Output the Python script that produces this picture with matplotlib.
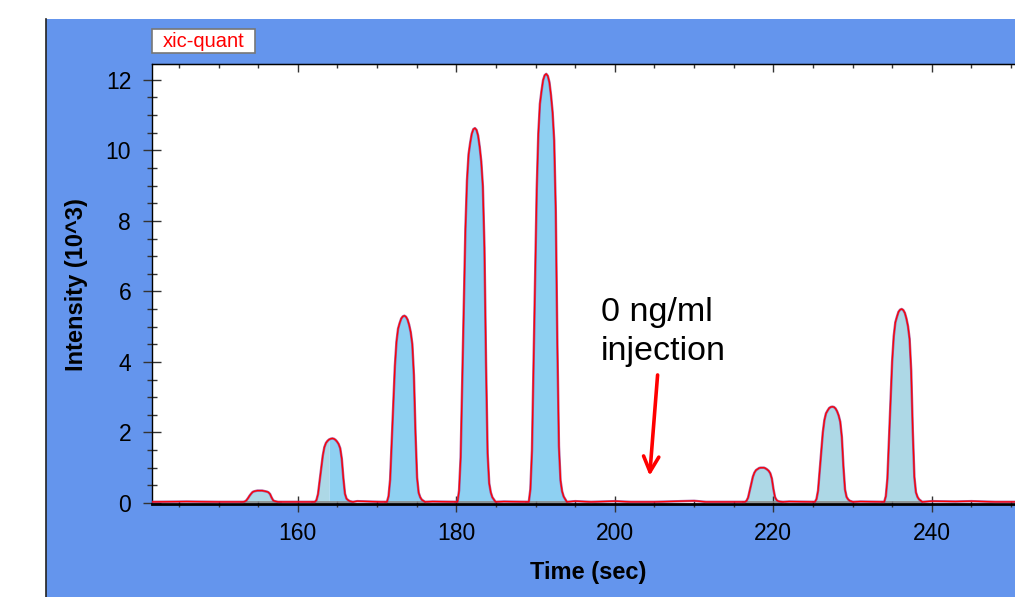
import numpy as np
import matplotlib
matplotlib.use("Agg")
import matplotlib.pyplot as plt
from matplotlib.patches import Rectangle
from matplotlib.lines import Line2D
from matplotlib.ticker import MultipleLocator

plt.rcParams['font.family'] = ['Liberation Sans', 'DejaVu Sans']

# ---- data ----
peak_offsets = [-2.2, -2.0, -1.8, -1.6, -1.4, -1.2, -1.0, -0.8, -0.6, -0.4, -0.2, 0.0,
                0.2, 0.4, 0.6, 0.8, 1.0, 1.2, 1.4, 1.6, 1.8, 2.0, 2.2, 2.6]
peak_centers = [155.3, 164.35, 173.45, 182.35, 191.35, 218.62, 227.45, 236.2]

peak1 = [0.03, 0.04, 0.07, 0.13, 0.20, 0.26, 0.31, 0.33, 0.34, 0.35, 0.35, 0.35,
         0.35, 0.34, 0.33, 0.32, 0.30, 0.25, 0.15, 0.07, 0.05, 0.04, 0.03, 0.03]
peak2 = [0.03, 0.08, 0.25, 0.61, 0.98, 1.34, 1.58, 1.70, 1.76, 1.80, 1.82, 1.83,
         1.82, 1.79, 1.74, 1.67, 1.55, 1.25, 0.70, 0.26, 0.12, 0.08, 0.05, 0.03]
peak3 = [0.03, 0.19, 0.66, 1.72, 2.83, 3.88, 4.57, 4.94, 5.10, 5.23, 5.29, 5.31,
         5.28, 5.20, 5.05, 4.84, 4.50, 3.62, 1.98, 0.72, 0.29, 0.16, 0.09, 0.03]
peak4 = [0.03, 0.35, 1.30, 3.42, 5.65, 7.77, 9.15, 9.89, 10.21, 10.47, 10.60, 10.63,
         10.58, 10.42, 10.10, 9.68, 8.98, 7.24, 3.95, 1.41, 0.56, 0.30, 0.16, 0.03]
peak5 = [0.03, 0.39, 1.49, 3.92, 6.46, 8.89, 10.47, 11.32, 11.68, 11.99, 12.13, 12.17,
         12.11, 11.93, 11.56, 11.08, 10.28, 8.29, 4.52, 1.61, 0.64, 0.33, 0.18, 0.03]
peak6 = [0.03, 0.06, 0.15, 0.34, 0.54, 0.74, 0.86, 0.93, 0.96, 0.99, 1.00, 1.00,
         1.00, 0.98, 0.95, 0.91, 0.84, 0.69, 0.39, 0.16, 0.08, 0.05, 0.04, 0.03]
peak7 = [0.03, 0.11, 0.35, 0.89, 1.46, 2.00, 2.35, 2.54, 2.62, 2.69, 2.72, 2.73,
         2.72, 2.68, 2.60, 2.48, 2.30, 1.87, 1.03, 0.38, 0.17, 0.10, 0.06, 0.03]
peak8 = [0.03, 0.19, 0.69, 1.78, 2.93, 4.02, 4.73, 5.12, 5.28, 5.42, 5.48, 5.50,
         5.47, 5.39, 5.23, 5.01, 4.65, 3.75, 2.05, 0.74, 0.30, 0.17, 0.10, 0.03]
peak_values = [peak1, peak2, peak3, peak4, peak5, peak6, peak7, peak8]

baseline_times = [141.6, 146, 150, 159, 161, 167.5, 169, 170.5, 177, 179.5, 186, 188.5,
                  195, 197, 200, 202, 205, 208.5, 210, 211.5, 214, 222, 224.5, 231,
                  233.5, 240, 243, 245, 248, 250.6]
baseline_vals = [0.03, 0.04, 0.03, 0.03, 0.03, 0.05, 0.04, 0.03, 0.04, 0.03, 0.04, 0.03,
                 0.05, 0.03, 0.05, 0.03, 0.03, 0.05, 0.06, 0.03, 0.03, 0.04, 0.03, 0.04,
                 0.03, 0.05, 0.04, 0.05, 0.03, 0.03]

x_ticks = [160, 180, 200, 220, 240]
y_ticks = [0, 2, 4, 6, 8, 10, 12]

LIGHTBLUE = '#ADD8E6'
SKYBLUE = '#8ED0F2'
peak_fill = [LIGHTBLUE, 'split', SKYBLUE, SKYBLUE, SKYBLUE, LIGHTBLUE, LIGHTBLUE, LIGHTBLUE]

W, H = 1015, 597
fig = plt.figure(figsize=(W / 100, H / 100), dpi=100)
fig.patch.set_facecolor('white')

# blue frame background (drawn below the axes)
fig.patches.append(Rectangle((46 / W, 0), 1 - 46 / W, 1 - 19 / H, transform=fig.transFigure,
                             facecolor='#6495ED', edgecolor='none', zorder=-10))
fig.lines.append(Line2D([46 / W, 46 / W], [0, 1 - 19 / H], transform=fig.transFigure,
                        color='#222222', lw=1.2, zorder=-9))

ax = fig.add_axes([152 / W, 1 - 504 / H, 1 - 152 / W, (504 - 64) / H])
ax.set_facecolor('white')
ax.set_xlim(141.6, 250.5)
ax.set_ylim(-0.03, 12.45)

# assemble the full trace
all_t = list(baseline_times)
all_y = list(baseline_vals)
for c, vals in zip(peak_centers, peak_values):
    all_t += [c + o for o in peak_offsets]
    all_y += vals
order = np.argsort(all_t)
trace_t = np.array(all_t)[order]
trace_y = np.array(all_y)[order]

# fills
for c, vals, col in zip(peak_centers, peak_values, peak_fill):
    t = np.array([c + o for o in peak_offsets])
    v = np.array(vals)
    if col == 'split':
        split = c - 0.4
        ax.fill_between(t, 0, v, where=t <= split + 1e-6, color=LIGHTBLUE, lw=0, zorder=1)
        ax.fill_between(t, 0, v, where=t >= split - 1e-6, color=SKYBLUE, lw=0, zorder=1)
    else:
        ax.fill_between(t, 0, v, color=col, lw=0, zorder=1)
    ax.plot([t[0] - 0.3, t[-1]], [0.03, 0.03], color='#888888', lw=1.2, zorder=2)

ax.plot(trace_t, trace_y, color='#9B3A8A', lw=1.8, alpha=0.8, zorder=3)
ax.plot(trace_t, trace_y, color='#FF0000', lw=0.9, zorder=4)

# spines
ax.spines['right'].set_visible(False)
ax.spines['bottom'].set_linewidth(2.0)
ax.spines['left'].set_linewidth(1.0)
ax.spines['top'].set_linewidth(1.0)

ax.set_xticks(x_ticks)
ax.set_yticks(y_ticks)
ax.xaxis.set_minor_locator(MultipleLocator(5))
ax.yaxis.set_minor_locator(MultipleLocator(0.5))
ax.tick_params(axis='x', which='major', direction='inout', length=11.5, width=1,
               color='#333333', labelsize=16.5, pad=7, top=False)
ax.tick_params(axis='x', which='minor', direction='inout', length=4.3, width=1,
               color='#333333', top=False)
ax.tick_params(axis='y', which='major', direction='inout', length=13, width=1,
               color='#333333', labelsize=16.5, pad=8.5, right=False)
ax.tick_params(axis='y', which='minor', direction='inout', length=6.5, width=1,
               color='#333333', right=False)

ax2 = ax.twiny()
ax2.set_xlim(ax.get_xlim())
ax2.set_xticks(x_ticks)
ax2.xaxis.set_minor_locator(MultipleLocator(5))
ax2.tick_params(axis='x', which='major', direction='in', length=5.8, width=1,
                color='#333333', labeltop=False)
ax2.tick_params(axis='x', which='minor', direction='in', length=3, width=1,
                color='#333333')
for s in ['right', 'bottom', 'left']:
    ax2.spines[s].set_visible(False)

# axis labels
fig.text(588 / W, 1 - 573 / H, 'Time (sec)', ha='center', va='center',
         fontsize=17, fontweight='bold')
fig.text(77 / W, 1 - 285 / H, 'Intensity (10^3)', ha='center', va='center',
         fontsize=17, fontweight='bold', rotation=90)

# title box
fig.patches.append(Rectangle((152 / W, 1 - 53 / H), 103 / W, 24 / H, transform=fig.transFigure,
                             facecolor='white', edgecolor='#777777', lw=1.2, zorder=5))
fig.text(203.5 / W, 1 - 41.5 / H, 'xic-quant', ha='center', va='center', fontsize=14.5,
         color='#FF0000', zorder=6)

# annotation
ax.text(198.2, 5.16, '0 ng/ml', fontsize=24.5, va='baseline', ha='left', color='black')
ax.text(198.2, 4.06, 'injection', fontsize=24.5, va='baseline', ha='left', color='black')
ax.annotate('', xy=(204.4, 0.77), xytext=(205.4, 3.63),
            arrowprops=dict(arrowstyle='->,head_length=1.1,head_width=0.55',
                            color='#FF0000', lw=2.6, shrinkA=0, shrinkB=0))

fig.savefig('out.png', dpi=100, facecolor=fig.get_facecolor())
